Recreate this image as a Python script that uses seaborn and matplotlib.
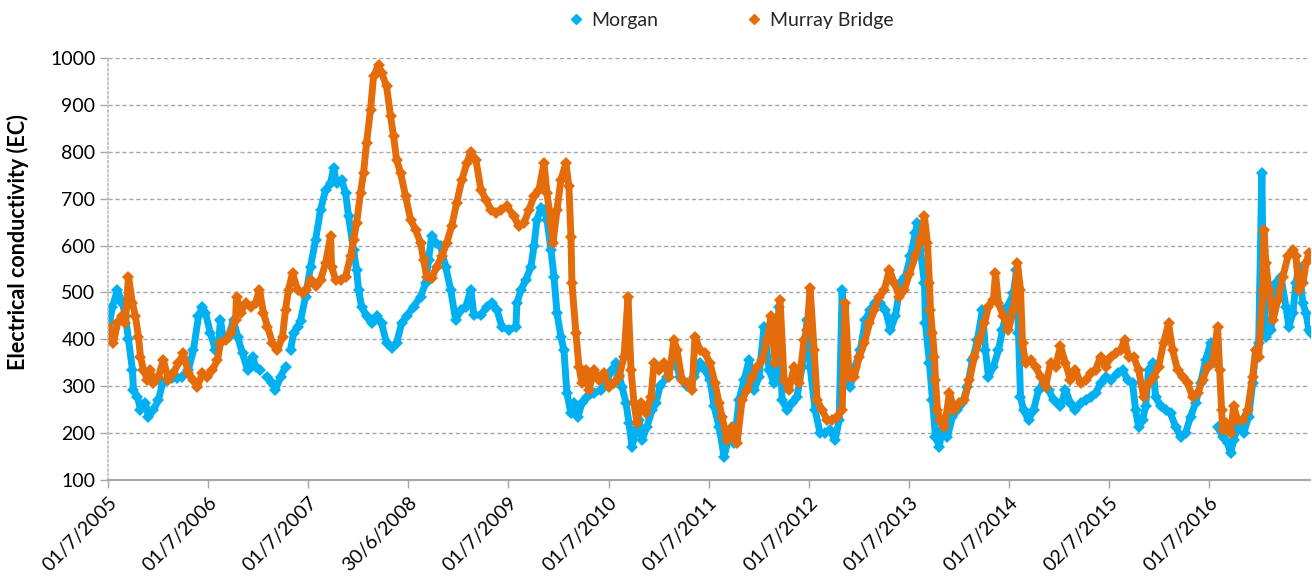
import numpy as np
import pandas as pd
import seaborn as sns
import matplotlib.pyplot as plt
from matplotlib.lines import Line2D

nan = np.nan

# Morgan (decimal year, EC); nan marks a gap in the record
morgan_year = [
    2005.50, 2005.54, 2005.59, 2005.64, 2005.67, 2005.70, 2005.74, 2005.75, 2005.79, 2005.82,
    2005.87, 2005.90, 2005.95, 2006.00, 2006.04, 2006.09, 2006.14, 2006.19, 2006.24, 2006.30,
    2006.35, 2006.40, 2006.44, 2006.47, 2006.52, 2006.57, 2006.60, 2006.62, 2006.65, 2006.70,
    2006.75, 2006.79, 2006.84, 2006.89, 2006.94, 2006.97, 2007.02, 2007.05, 2007.09, 2007.14,
    2007.17, 2007.22, 2007.27, 2007.29, 2007.32, 2007.35, 2007.39, 2007.42, 2007.47, 2007.52,
    2007.57, 2007.62, 2007.67, 2007.72, 2007.75, 2007.78, 2007.83, 2007.87, 2007.90, 2007.95,
    2007.98, 2008.00, 2008.03, 2008.08, 2008.13, 2008.18, 2008.23, 2008.28, 2008.33, 2008.38,
    2008.43, 2008.48, 2008.55, 2008.62, 2008.67, 2008.70, 2008.73, 2008.77, 2008.82, 2008.87,
    2008.92, 2008.97, 2009.02, 2009.07, 2009.12, 2009.15, 2009.22, 2009.28, 2009.33, 2009.38,
    2009.43, 2009.50, 2009.57, 2009.58, 2009.62, 2009.67, 2009.72, 2009.75, 2009.78, 2009.82,
    2009.85, 2009.88, 2009.92, 2009.95, 2009.98, 2010.02, 2010.05, 2010.08, 2010.12, 2010.15,
    2010.19, 2010.23, 2010.28, 2010.35, 2010.42, 2010.48, 2010.53, 2010.57, 2010.60, 2010.63,
    2010.67, 2010.70, 2010.73, 2010.77, 2010.80, 2010.83, 2010.88, 2010.93, 2010.97, 2011.01,
    2011.08, 2011.15, 2011.21, 2011.28, 2011.35, 2011.41, 2011.46, 2011.51, 2011.55, 2011.60,
    2011.65, 2011.70, 2011.75, 2011.80, 2011.85, 2011.90, 2011.95, 2012.00, 2012.05, 2012.10,
    2012.15, 2012.20, 2012.23, 2012.28, 2012.33, 2012.38, 2012.43, 2012.48, 2012.51, 2012.56,
    2012.61, 2012.66, 2012.71, 2012.76, 2012.80, 2012.83, 2012.86, 2012.91, 2012.96, 2013.01,
    2013.06, 2013.11, 2013.16, 2013.21, 2013.26, 2013.31, 2013.36, 2013.41, 2013.46, 2013.51,
    2013.56, 2013.58, 2013.61, 2013.65, 2013.66, 2013.70, 2013.73, 2013.76, 2013.80, 2013.83,
    2013.88, 2013.93, 2013.98, 2014.03, 2014.08, 2014.13, 2014.18, 2014.23, 2014.26, 2014.29,
    2014.34, 2014.39, 2014.43, 2014.48, 2014.54, 2014.57, 2014.59, 2014.61, 2014.64, 2014.69,
    2014.74, 2014.79, 2014.84, 2014.89, 2014.94, 2015.01, 2015.06, 2015.11, 2015.16, 2015.21,
    2015.26, 2015.31, 2015.36, 2015.41, 2015.46, 2015.51, 2015.58, 2015.63, 2015.68, 2015.73,
    2015.76, 2015.79, 2015.83, 2015.86, 2015.89, 2015.93, 2015.96, 2016.01, 2016.06, 2016.11,
    2016.16, 2016.21, 2016.26, 2016.31, 2016.36, 2016.41, 2016.46, 2016.51, 2016.56, 2016.57,
    2016.58, 2016.63, 2016.68, 2016.71, 2016.74, 2016.79, 2016.84, 2016.89, 2016.93, 2016.96,
    2016.99, 2017.02, 2017.03, 2017.06, 2017.11, 2017.16, 2017.21, 2017.26, 2017.29, 2017.33,
    2017.36, 2017.39, 2017.43, 2017.46, 2017.49, 2017.51,
]
morgan_ec = [
    420, 470, 505, 477, 450, 400, 335, 292, 278, 250,
    264, 235, 250, 270, 306, 313, 317, 317, 320, 335,
    377, 449, 470, 456, 413, 377, 392, 441, 399, 406,
    441, 406, 370, 335, 363, 342, 335, nan, 320, 306,
    292, 320, 342, nan, 377, 413, 427, 440, 491, 555,
    612, 676, 719, 733, 765, 733, 740, 712, 662, 591,
    548, 506, 470, 449, 434, 449, 434, 392, 381, 392,
    434, 449, 470, 491, 520, 570, 620, 605, 598, 555,
    506, 441, 463, 470, 506, 452, 452, 470, 477, 463,
    427, 420, 427, 477, 506, 527, 555, 598, 655, 680,
    676, 655, 591, 534, 456, 406, 377, 285, 242, 264,
    235, 264, 278, 285, 292, 313, 335, 349, 324, 299,
    264, 221, 171, 207, 228, 185, 214, 249, 264, 300,
    320, 360, 320, 300, 320, 349, 335, 313, 257, 214,
    150, 192, 178, 271, 313, 356, 292, 320, 427, 335,
    306, 470, 271, 249, 264, 278, 342, 441, 342, 249,
    200, 200, 207, 185, 228, 506, 306, 299, 342, 377,
    441, 463, 477, 477, 463, 420, 449, 520, 534, 577,
    627, 648, 591, 520, 434, 349, 271, 192, 171, 221,
    192, 235, 249, 264, 299, 356, 399, 463, 377, 320,
    342, 377, 420, 470, 498, 548, 413, 278, 249, 228,
    249, 292, 306, 292, 271, 257, 292, 264, 249, 264,
    271, 278, 285, 306, 320, 313, 328, 335, 313, 306,
    249, 214, 228, 257, 335, 349, 278, 257, 249, 242,
    214, 192, 200, 235, 264, 306, 356, 392, 349, nan,
    214, 192, 178, 157, 185, 221, 200, 235, 306, 377,
    392, 755, 591, 406, 420, 520, 534, 470, 427, 456,
    520, 555, 477, 456, 420, 413,
]

# Murray Bridge (decimal year, EC)
murray_year = [
    2005.50, 2005.52, 2005.55, 2005.59, 2005.64, 2005.67, 2005.70, 2005.74, 2005.77, 2005.80,
    2005.82, 2005.85, 2005.89, 2005.92, 2005.95, 2006.00, 2006.05, 2006.10, 2006.15, 2006.20,
    2006.25, 2006.30, 2006.35, 2006.39, 2006.44, 2006.49, 2006.54, 2006.59, 2006.62, 2006.67,
    2006.72, 2006.77, 2006.78, 2006.82, 2006.87, 2006.92, 2006.97, 2007.01, 2007.05, 2007.09,
    2007.14, 2007.19, 2007.24, 2007.27, 2007.30, 2007.34, 2007.39, 2007.44, 2007.47, 2007.52,
    2007.57, 2007.62, 2007.67, 2007.72, 2007.73, 2007.77, 2007.82, 2007.87, 2007.92, 2007.95,
    2007.98, 2008.02, 2008.05, 2008.08, 2008.12, 2008.15, 2008.20, 2008.23, 2008.28, 2008.32,
    2008.35, 2008.38, 2008.42, 2008.47, 2008.52, 2008.57, 2008.62, 2008.65, 2008.68, 2008.73,
    2008.78, 2008.83, 2008.88, 2008.93, 2008.98, 2009.03, 2009.08, 2009.12, 2009.17, 2009.22,
    2009.27, 2009.32, 2009.37, 2009.42, 2009.48, 2009.55, 2009.60, 2009.65, 2009.70, 2009.75,
    2009.80, 2009.85, 2009.88, 2009.92, 2009.94, 2009.98, 2010.02, 2010.07, 2010.10, 2010.12,
    2010.13, 2010.17, 2010.20, 2010.23, 2010.27, 2010.30, 2010.35, 2010.40, 2010.45, 2010.50,
    2010.55, 2010.60, 2010.65, 2010.69, 2010.72, 2010.75, 2010.78, 2010.82, 2010.87, 2010.92,
    2010.95, 2011.00, 2011.05, 2011.10, 2011.15, 2011.18, 2011.23, 2011.28, 2011.33, 2011.36,
    2011.41, 2011.46, 2011.51, 2011.56, 2011.60, 2011.63, 2011.68, 2011.73, 2011.78, 2011.83,
    2011.88, 2011.93, 2011.98, 2012.03, 2012.08, 2012.12, 2012.16, 2012.21, 2012.25, 2012.30,
    2012.35, 2012.40, 2012.45, 2012.48, 2012.51, 2012.55, 2012.58, 2012.63, 2012.68, 2012.73,
    2012.78, 2012.83, 2012.86, 2012.90, 2012.95, 2013.00, 2013.05, 2013.10, 2013.15, 2013.20,
    2013.25, 2013.30, 2013.35, 2013.40, 2013.45, 2013.50, 2013.56, 2013.61, 2013.65, 2013.68,
    2013.70, 2013.71, 2013.73, 2013.75, 2013.76, 2013.78, 2013.81, 2013.85, 2013.90, 2013.95,
    2014.00, 2014.05, 2014.10, 2014.15, 2014.20, 2014.25, 2014.29, 2014.34, 2014.36, 2014.39,
    2014.44, 2014.49, 2014.54, 2014.58, 2014.61, 2014.63, 2014.66, 2014.71, 2014.76, 2014.81,
    2014.86, 2014.91, 2014.96, 2015.01, 2015.06, 2015.11, 2015.16, 2015.21, 2015.26, 2015.31,
    2015.36, 2015.41, 2015.46, 2015.51, 2015.56, 2015.61, 2015.65, 2015.69, 2015.74, 2015.79,
    2015.84, 2015.89, 2015.94, 2015.99, 2016.04, 2016.09, 2016.13, 2016.18, 2016.23, 2016.28,
    2016.33, 2016.38, 2016.43, 2016.48, 2016.53, 2016.58, 2016.60, 2016.62, 2016.63, 2016.66,
    2016.71, 2016.74, 2016.78, 2016.83, 2016.88, 2016.93, 2016.96, 2016.99, 2017.03, 2017.04,
    2017.06, 2017.09, 2017.13, 2017.18, 2017.23, 2017.28, 2017.33, 2017.36, 2017.39, 2017.43,
    2017.46, 2017.49, 2017.51,
]
murray_ec = [
    427, 399, 392, 434, 449, 434, 534, 477, 449, 406,
    363, 335, 313, 335, 306, 320, 356, 313, 328, 349,
    370, 328, 313, 299, 328, 320, 335, 356, 392, 399,
    413, 441, 491, 456, 477, 470, 477, 506, 456, 427,
    392, 377, 406, 463, 506, 541, 506, 498, 506, 527,
    513, 527, 562, 620, 555, 527, 527, 534, 577, 612,
    648, 712, 755, 819, 890, 961, 986, 968, 940, 876,
    833, 783, 755, 705, 655, 634, 605, 570, 534, 530,
    555, 577, 605, 641, 691, 740, 776, 800, 783, 719,
    698, 676, 669, 676, 684, 662, 641, 648, 676, 705,
    719, 776, 712, 648, 605, 676, 740, 776, 726, 619,
    520, 413, 342, 306, 335, 292, 335, 313, 328, 299,
    306, 320, 363, 490, 335, 264, 221, 264, 242, 278,
    349, 335, 349, 320, 399, 377, 313, 306, 292, 406,
    377, 370, 349, 306, 264, 235, 185, 214, 178, 271,
    292, 320, 342, 356, 399, 449, 349, 484, 313, 292,
    342, 306, 399, 420, 509, 377, 271, 249, 228, 228,
    235, 249, 477, 320, 320, 363, 392, 434, 463, 491,
    506, 548, 520, 491, 506, 540, 577, 612, 662, 605,
    520, 463, 413, 363, 313, 249, 228, 214, 285, 249,
    264, 271, 313, 363, 399, 434, 470, 484, 541, 477,
    449, 420, 463, 562, 506, 392, 349, 356, 342, 320,
    299, 349, 342, 385, 349, 313, 335, 306, 313, 328,
    335, 363, 342, 363, 370, 377, 399, 363, 363, 335,
    278, 306, 320, 342, 392, 434, 377, 335, 320, 306,
    278, 285, 313, 342, 349, 427, 335, 249, 207, 221,
    200, 257, 228, 228, 249, 320, 377, 363, 506, 634,
    562, 506, 441, 484, 534, 577, 591, 577, 506, 520,
    562, 584, 577,
]

tick_dates = ["2005-07-01", "2006-07-01", "2007-07-01", "2008-06-30", "2009-07-01", "2010-07-01",
              "2011-07-01", "2012-07-01", "2013-07-01", "2014-07-01", "2015-07-02", "2016-07-01"]
tick_labels = ["01/7/2005", "01/7/2006", "01/7/2007", "30/6/2008", "01/7/2009", "01/7/2010",
               "01/7/2011", "01/7/2012", "01/7/2013", "01/7/2014", "02/7/2015", "01/7/2016"]

MORGAN_COLOR = "#00B0F0"
MURRAY_COLOR = "#E46C0A"
GRID_COLOR = "#A6A6A6"


def to_frame(years, values):
    df = pd.DataFrame({"year": years, "ec": values})
    start = pd.to_datetime(df["year"].astype(int).astype(str) + "-01-01")
    df["date"] = start + pd.to_timedelta((df["year"] % 1) * 365.25, unit="D")
    # break the line where the record has a gap
    df["segment"] = df["ec"].isna().cumsum()
    return df.dropna(subset=["ec"])


def main():
    sns.set_theme(style="white")
    plt.rcParams["font.family"] = ["Lato", "DejaVu Sans"]

    fig, ax = plt.subplots(figsize=(13.12, 5.8), dpi=100)
    fig.subplots_adjust(left=0.0823, right=0.9985, top=0.9, bottom=0.1724)

    for years, values, color in [(morgan_year, morgan_ec, MORGAN_COLOR),
                                 (murray_year, murray_ec, MURRAY_COLOR)]:
        df = to_frame(years, values)
        sns.lineplot(data=df, x="date", y="ec", units="segment", estimator=None,
                     color=color, linewidth=5, marker="D", markersize=6,
                     markeredgewidth=0, legend=False, ax=ax)

    ax.set_ylim(100, 1000)
    ax.set_yticks(range(100, 1001, 100))
    ax.set_xlim(pd.Timestamp("2005-07-01"), pd.Timestamp("2017-07-03"))
    ax.set_xticks(pd.to_datetime(tick_dates))
    ax.set_xticklabels(tick_labels, rotation=45, ha="right", rotation_mode="anchor")

    ax.grid(axis="y", linestyle=(0, (3, 2)), color=GRID_COLOR, linewidth=1)
    ax.set_axisbelow(True)
    for side in ["top", "right"]:
        ax.spines[side].set_visible(False)
    ax.spines["left"].set_linestyle(":")
    ax.spines["left"].set_color("#BFBFBF")
    ax.spines["bottom"].set_color(GRID_COLOR)
    ax.spines["bottom"].set_linewidth(1.5)

    ax.tick_params(axis="x", bottom=True, length=6, width=1, color=GRID_COLOR,
                   labelsize=14, pad=4, labelcolor="black")
    ax.tick_params(axis="y", left=True, length=6, width=1, color=GRID_COLOR,
                   labelsize=14, pad=3, labelcolor="black")

    ax.set_xlabel("")
    ax.set_ylabel("Electrical conductivity (EC)", fontsize=15.5, fontweight="bold", color="black")
    ax.yaxis.set_label_coords(-0.066, 0.565)

    handles = [Line2D([], [], marker="D", linestyle="None", color=MORGAN_COLOR, markersize=5),
               Line2D([], [], marker="D", linestyle="None", color=MURRAY_COLOR, markersize=5)]
    fig.legend(handles, ["Morgan", "Murray Bridge"], loc="center", bbox_to_anchor=(0.557, 0.965),
               ncol=2, frameon=False, fontsize=14, handlelength=0.8, handletextpad=0.4,
               columnspacing=4.5)

    fig.savefig("out.png", dpi=100)
    plt.close(fig)


if __name__ == "__main__":
    main()
